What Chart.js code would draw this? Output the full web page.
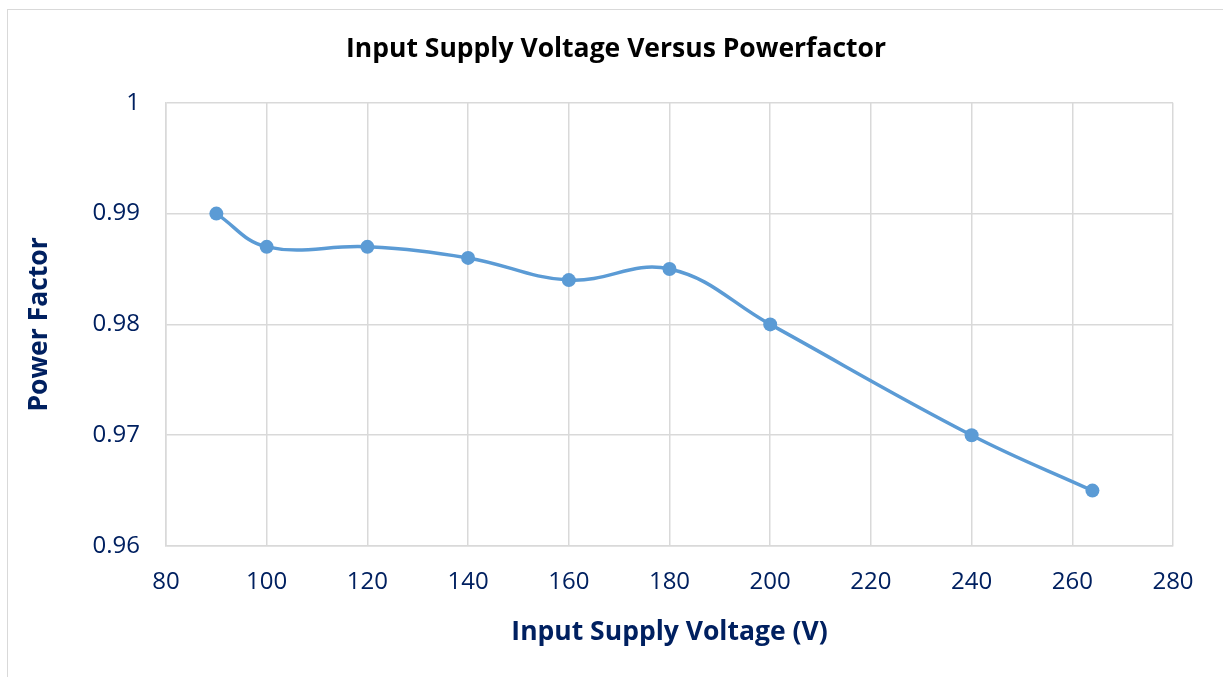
<!DOCTYPE html>
<html lang="en">
<head>
    <meta charset="UTF-8">
    <title>Input Supply Voltage Versus Powerfactor</title>
    <script src="https://cdn.jsdelivr.net/npm/chart.js"></script>
    <style>
        html, body {
            margin: 0;
            padding: 0;
            background: #ffffff;
            overflow: hidden;
        }
        .frame {
            position: absolute;
            left: 7px;
            top: 9px;
            width: 1300px;
            height: 760px;
            border: 1.5px solid #d9d9d9;
        }
        .chart-box {
            position: absolute;
            left: 0;
            top: 0;
            width: 1223px;
            height: 677px;
        }
    </style>
</head>
<body>
    <div class="frame"></div>
    <div class="chart-box">
        <canvas id="pfChart"></canvas>
    </div>

    <script>
        // values
        const voltage = [90, 100, 120, 140, 160, 180, 200, 240, 264];
        const powerFactor = [0.990, 0.987, 0.987, 0.986, 0.984, 0.985, 0.980, 0.970, 0.965];
        const xTicks = [80, 100, 120, 140, 160, 180, 200, 220, 240, 260, 280];
        const yTicks = [0.96, 0.97, 0.98, 0.99, 1];

        const navy = '#002060';
        const gridColor = '#d9d9d9';
        const fontFamily = "'Open Sans', 'Noto Sans', sans-serif";

        const ctx = document.getElementById('pfChart').getContext('2d');

        new Chart(ctx, {
            type: 'line',
            data: {
                datasets: [{
                    label: 'Power Factor',
                    data: voltage.map((v, i) => ({ x: v, y: powerFactor[i] })),
                    borderColor: '#5b9bd5',
                    backgroundColor: '#5b9bd5',
                    borderWidth: 3.5,
                    pointRadius: 7,
                    pointBorderWidth: 0,
                    tension: 0.4,
                    fill: false
                }]
            },
            options: {
                responsive: true,
                maintainAspectRatio: false,
                animation: false,
                // left padding pushes the chart title right, like in the Excel original
                layout: {
                    padding: { left: 59, top: 0, right: 50, bottom: 0 }
                },
                plugins: {
                    legend: { display: false },
                    tooltip: { enabled: false },
                    title: {
                        display: true,
                        text: 'Input Supply Voltage Versus Powerfactor',
                        color: '#000000',
                        font: { family: fontFamily, size: 26.5, weight: 'bold' },
                        padding: { top: 34, bottom: 37 }
                    }
                },
                scales: {
                    x: {
                        type: 'linear',
                        min: 80,
                        max: 280,
                        afterBuildTicks: function(scale) {
                            scale.ticks = xTicks.map(v => ({ value: v }));
                        },
                        afterFit: function(scale) {
                            scale.height = 131;
                        },
                        grid: { color: gridColor, lineWidth: 1.5, drawTicks: false },
                        border: { color: gridColor, width: 1.5 },
                        ticks: {
                            color: navy,
                            padding: 22,
                            maxRotation: 0,
                            font: { family: fontFamily, size: 24 }
                        },
                        title: {
                            display: true,
                            text: 'Input Supply Voltage (V)',
                            color: navy,
                            font: { family: fontFamily, size: 26.5, weight: 'bold' },
                            padding: { top: 0, bottom: 29 }
                        }
                    },
                    y: {
                        min: 0.96,
                        max: 1,
                        afterBuildTicks: function(scale) {
                            scale.ticks = yTicks.map(v => ({ value: v }));
                        },
                        afterFit: function(scale) {
                            scale.width = 107;
                        },
                        grid: { color: gridColor, lineWidth: 1.5, drawTicks: false },
                        border: { color: gridColor, width: 1.5 },
                        ticks: {
                            color: navy,
                            padding: 26,
                            font: { family: fontFamily, size: 24 },
                            callback: function(value) {
                                return String(Math.round(value * 100) / 100);
                            }
                        },
                        title: {
                            display: true,
                            text: 'Power Factor',
                            color: navy,
                            font: { family: fontFamily, size: 26.5, weight: 'bold' },
                            padding: { top: -35, bottom: 0 }
                        }
                    }
                }
            }
        });
    </script>
</body>
</html>
